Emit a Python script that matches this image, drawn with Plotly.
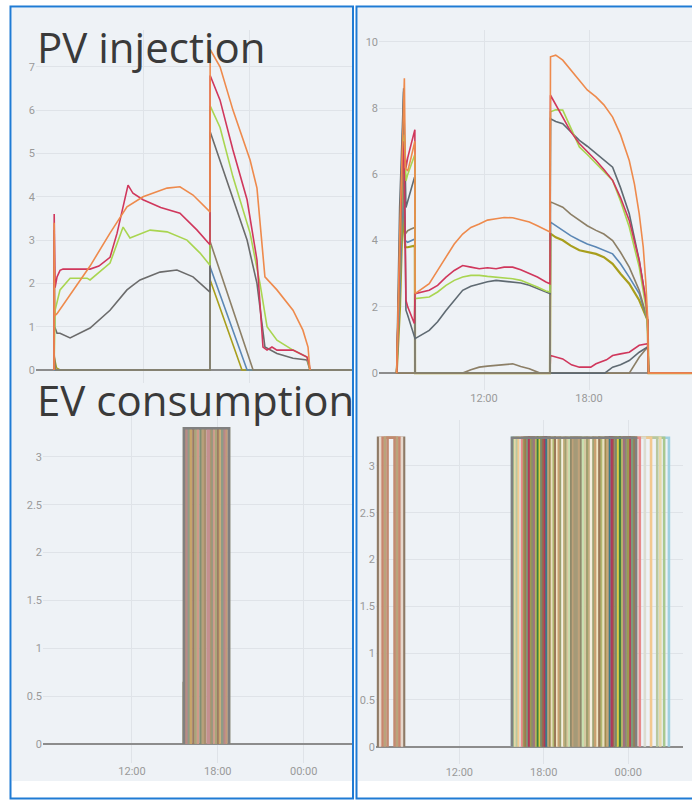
import plotly.graph_objects as go

# ---------------- DATA (hours of day, kW) ----------------
# Top-left: PV injection, feeder A
tl_orange_t = [6.96, 6.97, 6.99, 7.13, 9.0, 10.13, 11.09, 12.0, 13.36, 14.09, 14.83, 15.79, 15.80, 16.36, 17.09, 18.06, 18.45, 18.90, 19.58, 20.49, 21.05, 21.34, 21.40, 21.45]
tl_orange_v = [0, 3.4, 1.25, 1.3, 2.4, 3.16, 3.77, 4.0, 4.2, 4.23, 4.04, 3.65, 7.4, 7.0, 6.0, 4.85, 4.2, 2.15, 1.85, 1.38, 0.92, 0.53, 0.25, 0]
tl_red_t = [6.96, 6.97, 7.02, 7.13, 7.30, 7.47, 9.0, 9.5, 10.13, 10.53, 11.15, 11.43, 12.0, 13.0, 14.09, 15.06, 15.79, 15.80, 16.36, 17.09, 17.89, 18.45, 18.79, 19.02, 19.30, 19.58, 20.49, 21.28, 21.40, 21.45]
tl_red_v = [0, 3.6, 1.9, 2.15, 2.3, 2.33, 2.33, 2.4, 2.6, 3.16, 4.27, 4.08, 3.93, 3.75, 3.62, 3.23, 2.89, 6.8, 6.23, 5.08, 3.93, 2.54, 0.53, 0.46, 0.53, 0.46, 0.46, 0.3, 0.15, 0]
tl_green_t = [6.96, 7.02, 7.30, 7.87, 8.83, 9.0, 10.13, 10.87, 11.26, 12.4, 13.36, 14.49, 15.23, 15.79, 15.80, 16.36, 17.09, 18.06, 18.62, 19.02, 19.58, 20.49, 21.28, 21.45]
tl_green_v = [0, 1.38, 1.85, 2.12, 2.12, 2.08, 2.47, 3.3, 3.05, 3.23, 3.19, 3.0, 2.7, 2.42, 6.1, 5.6, 4.46, 3.16, 2.0, 1.0, 0.69, 0.46, 0.3, 0]
tl_gray_t = [6.96, 6.97, 7.0, 7.13, 7.30, 7.87, 9.0, 10.13, 11.09, 11.4, 11.83, 12.96, 13.92, 14.83, 15.79, 15.80, 17.09, 17.89, 18.45, 18.90, 19.58, 20.49, 21.28, 21.45]
tl_gray_v = [0, 3.23, 1.0, 0.85, 0.85, 0.74, 0.97, 1.38, 1.85, 1.95, 2.08, 2.26, 2.31, 2.15, 1.8, 5.5, 3.93, 3.0, 2.0, 0.53, 0.38, 0.27, 0.23, 0]
tl_taupe_t = [6.96, 6.97, 7.05, 15.79, 15.80, 18.23, 23.8]
tl_taupe_v = [0, 0.35, 0, 0, 2.96, 0, 0]
tl_blue_t = [6.96, 15.79, 15.80, 17.89, 23.8]
tl_blue_v = [0, 0, 2.38, 0, 0]
tl_olive_t = [6.96, 6.97, 7.1, 7.3, 15.79, 15.80, 17.60, 23.8]
tl_olive_v = [0, 0.3, 0.05, 0, 0, 2.08, 0, 0]

# Top-right: PV injection, feeder B
tr_orange_t = [7.01, 7.20, 7.38, 7.45, 7.50, 7.64, 7.83, 8.02, 8.05, 8.06, 8.87, 9.35, 9.83, 10.30, 10.78, 11.25, 11.73, 12.20, 12.69, 13.15, 13.64, 14.10, 14.59, 15.05, 15.54, 15.77, 15.80, 16.10, 16.50, 16.95, 17.45, 17.90, 18.40, 18.85, 19.35, 19.80, 20.30, 20.60, 20.87, 21.10, 21.25, 21.35, 21.40, 23.88]
tr_orange_v = [0, 4.5, 7.6, 8.9, 6.2, 6.1, 6.5, 6.9, 7.0, 2.4, 2.7, 3.1, 3.5, 3.9, 4.2, 4.4, 4.5, 4.62, 4.66, 4.7, 4.69, 4.63, 4.56, 4.45, 4.31, 4.26, 9.55, 9.6, 9.45, 9.15, 8.84, 8.55, 8.34, 8.1, 7.73, 7.2, 6.42, 5.7, 4.81, 3.8, 2.7, 1.69, 0, 0]
tr_red_t = [7.01, 7.20, 7.36, 7.45, 7.54, 7.64, 7.83, 8.02, 8.06, 8.87, 9.35, 9.83, 10.30, 10.78, 11.25, 11.73, 12.20, 12.69, 13.15, 13.64, 14.10, 14.59, 15.05, 15.54, 15.77, 15.80, 16.10, 16.50, 16.95, 17.45, 17.90, 18.40, 18.85, 19.35, 19.80, 20.30, 20.87, 21.25, 21.35, 21.40, 23.88]
tr_red_v = [0, 3.5, 7.0, 6.0, 2.2, 2.0, 1.75, 1.5, 2.4, 2.5, 2.65, 2.9, 3.1, 3.25, 3.2, 3.15, 3.18, 3.15, 3.2, 3.2, 3.12, 3.0, 2.9, 2.75, 2.7, 8.39, 8.1, 7.73, 7.3, 6.93, 6.7, 6.42, 6.15, 5.82, 5.3, 4.61, 3.4, 2.2, 1.6, 0, 0]
tr_green_t = [7.01, 7.20, 7.38, 7.45, 7.54, 7.64, 7.83, 8.02, 8.05, 8.06, 8.87, 9.35, 9.83, 10.30, 10.78, 11.25, 11.73, 12.20, 12.69, 13.15, 13.64, 14.10, 14.59, 15.05, 15.54, 15.77, 15.80, 16.10, 16.50, 16.95, 17.45, 17.90, 18.40, 18.85, 19.35, 19.80, 20.30, 20.87, 21.25, 21.35, 21.40, 23.88]
tr_green_v = [0, 3.8, 6.8, 7.2, 5.8, 6.0, 6.3, 6.6, 6.6, 2.25, 2.3, 2.45, 2.65, 2.8, 2.9, 2.95, 2.95, 2.92, 2.9, 2.88, 2.85, 2.8, 2.7, 2.6, 2.48, 2.45, 7.89, 7.95, 7.94, 7.4, 6.83, 6.6, 6.32, 6.1, 5.82, 5.2, 4.41, 3.2, 1.99, 1.39, 0, 0]
tr_slate_t = [7.01, 7.18, 7.34, 7.41, 7.48, 7.54, 7.64, 7.83, 8.02, 8.06, 8.87, 9.35, 9.83, 10.30, 10.78, 11.25, 11.73, 12.20, 12.69, 13.15, 13.64, 14.10, 14.59, 15.05, 15.54, 15.77, 15.80, 16.10, 16.50, 16.95, 17.45, 17.90, 18.40, 18.85, 19.35, 19.80, 20.30, 20.87, 21.25, 21.35, 21.40, 23.88]
tr_slate_v = [0, 5.0, 7.5, 8.6, 5.0, 1.9, 1.75, 1.4, 1.1, 1.04, 1.29, 1.55, 1.89, 2.2, 2.5, 2.62, 2.7, 2.76, 2.8, 2.78, 2.75, 2.72, 2.65, 2.55, 2.45, 2.4, 7.68, 7.6, 7.53, 7.3, 7.03, 6.85, 6.63, 6.45, 6.22, 5.6, 4.81, 3.4, 2.2, 1.49, 0, 0]
tr_eve_t = [7.01, 7.20, 7.36, 7.50, 7.64, 7.83, 8.02, 8.05, 8.06, 15.77, 15.80, 16.10, 16.50, 16.95, 17.45, 17.90, 18.40, 18.85, 19.35, 19.80, 20.30, 20.87, 21.35, 21.40, 23.88]
tr_taupe_v = [0, 3.0, 6.0, 4.2, 4.3, 4.35, 4.4, 4.4, 0, 0, 5.17, 5.1, 5.01, 4.8, 4.61, 4.45, 4.31, 4.2, 4.0, 3.65, 3.2, 2.5, 1.59, 0, 0]
tr_blue_v = [0, 2.5, 5.5, 4.0, 3.95, 4.0, 4.05, 4.05, 0, 0, 4.56, 4.45, 4.31, 4.15, 4.01, 3.9, 3.81, 3.72, 3.6, 3.3, 2.9, 2.4, 1.59, 0, 0]
tr_olive_v = [0, 2.0, 5.0, 3.8, 3.8, 3.82, 3.85, 3.85, 0, 0, 4.21, 4.1, 4.01, 3.85, 3.71, 3.65, 3.6, 3.5, 3.3, 3.0, 2.7, 2.2, 1.59, 0, 0]
tr_lowred_t = [7.01, 7.20, 7.38, 7.45, 7.54, 7.64, 7.83, 8.02, 8.05, 8.06, 15.77, 15.80, 16.00, 16.50, 17.0, 17.45, 18.1, 18.40, 19.00, 19.35, 19.80, 20.30, 20.87, 21.35, 21.40, 23.88]
tr_lowred_v = [0, 4.0, 6.0, 7.0, 6.2, 6.5, 6.9, 7.3, 7.35, 0, 0, 0.53, 0.5, 0.43, 0.25, 0.18, 0.18, 0.28, 0.4, 0.53, 0.58, 0.63, 0.84, 0.89, 0, 0]
tr_lowslate_t = [7.01, 7.20, 7.41, 7.54, 7.64, 7.83, 8.02, 8.05, 8.06, 18.9, 19.35, 19.80, 20.30, 20.87, 21.35, 21.40, 23.88]
tr_lowslate_v = [0, 4.5, 8.5, 5.0, 5.2, 5.5, 5.9, 5.9, 0, 0, 0.18, 0.25, 0.38, 0.63, 0.79, 0, 0]
tr_lowtaupe_t = [7.01, 10.78, 11.25, 11.73, 12.20, 12.69, 13.15, 13.64, 14.10, 14.59, 15.20, 20.30, 20.87, 21.35, 21.40, 23.88]
tr_lowtaupe_v = [0, 0, 0.1, 0.18, 0.21, 0.23, 0.25, 0.28, 0.2, 0.13, 0, 0, 0.48, 0.79, 0, 0]

# Bottom-left: EV consumption, feeder A (start h, end h, kW, colour)
evl_start = [15.62, 15.64, 15.72, 15.85, 15.98, 16.12, 16.30, 16.45, 16.62, 16.80, 16.95, 17.12, 17.30, 15.64]
evl_end = [15.66, 18.78, 18.60, 18.45, 18.30, 18.12, 17.98, 17.85, 17.70, 17.55, 17.47, 17.41, 17.36, 18.78]
evl_power = [0.65, 3.3, 3.3, 3.3, 3.3, 3.3, 3.3, 3.3, 3.3, 3.3, 3.3, 3.3, 3.3, 3.3]
evl_color = ["#8a8a6a", "#8f8b66", "#c49a78", "#b98888", "#8e9c86", "#c7a46a", "#9c7a62", "#a9a57a",
             "#cf9a8a", "#7f8f74", "#b8a07a", "#a88f6f", "#c49090", "#808080"]

# Bottom-right: EV consumption, feeder B
evr_start = [6.23, 6.38, 6.55, 6.72, 6.90,
             15.74, 15.86, 15.98, 16.09, 16.22, 16.34, 16.47, 16.60, 16.71, 16.84, 16.96, 17.10, 17.21,
             17.34, 17.46, 17.59, 17.72, 17.83, 17.96, 18.09, 18.20, 18.34, 18.45, 18.58, 18.71, 18.82,
             18.96, 19.07, 19.21, 19.33, 19.46, 19.57, 19.70, 19.83, 19.95, 20.08, 20.20, 15.74]
evr_end = [8.07, 7.92, 7.74, 7.56, 7.40,
           26.89, 26.55, 26.28, 26.06, 25.62, 25.18, 24.82, 24.55, 24.41, 24.27, 24.10, 23.98, 23.81,
           23.68, 23.52, 23.39, 23.23, 23.10, 22.93, 22.81, 22.64, 22.52, 22.35, 22.22, 22.06, 21.93,
           21.77, 21.64, 21.47, 21.35, 21.18, 21.06, 20.89, 20.76, 20.60, 20.47, 20.33, 24.55]
evr_power = [3.3, 3.3, 3.3, 3.3, 3.3,
             3.3, 3.3, 3.3, 3.3, 3.3, 3.3, 3.3, 3.3, 3.3, 3.3, 3.3, 3.3, 3.3,
             3.3, 3.3, 3.3, 3.3, 3.3, 3.3, 3.3, 3.3, 3.3, 3.3, 3.3, 3.3, 3.3,
             3.3, 3.3, 3.3, 3.3, 3.3, 3.3, 3.3, 3.3, 3.3, 3.3, 3.3, 3.3]
evr_color = ["#8e7a66", "#e6d8cc", "#c9866e", "#b9a47c", "#c28a70",
             "#9fd0e0", "#a8c890", "#e8d8a8", "#b8c8a0", "#f2c890", "#dcdcd0", "#e88a8a", "#9a9a5a",
             "#a07850", "#7e9a7a", "#b03a5a", "#a09a50", "#8a8a70", "#a07080", "#b8b060", "#3a8040",
             "#e0c840", "#7a8a6a", "#9a6a50", "#b03a5a", "#3a7a8a", "#c8a878", "#a08a50", "#e8e0c0",
             "#b0b870", "#9a7858", "#f0e6c8", "#c8a070", "#9aa070", "#f4f0e0", "#c8b080", "#a0a070",
             "#d8c8a0", "#c8e0b0", "#8e8a6a", "#c0a27a", "#a59a78", "#808080"]

hour_ticks = [12, 18, 24]
hour_labels = ["12:00", "18:00", "00:00"]

# ---------------- FIGURE ----------------
W, H = 692, 800
def px(x): return x / W
def py(y): return 1 - y / H

C = dict(orange="#ee8a4c", red="#d0375c", green="#a9d550", slate="#5f6a72", gray="#6b6b6b",
         taupe="#8c7f66", blue="#5b87b5", olive="#a89e1c")

fig = go.Figure()

def line(x, y, color, ax, w=1.6):
    fig.add_trace(go.Scatter(x=x, y=y, mode="lines", line=dict(color=color, width=w),
                             xaxis="x" + ax, yaxis="y" + ax, showlegend=False, hoverinfo="skip"))

# top-left
line(tl_olive_t, tl_olive_v, C["olive"], "")
line(tl_blue_t, tl_blue_v, C["blue"], "")
line(tl_taupe_t, tl_taupe_v, C["taupe"], "")
line(tl_gray_t, tl_gray_v, C["gray"], "")
line(tl_green_t, tl_green_v, C["green"], "")
line(tl_red_t, tl_red_v, C["red"], "")
line(tl_orange_t, tl_orange_v, C["orange"], "")

# top-right
line(tr_lowtaupe_t, tr_lowtaupe_v, C["taupe"], "2")
line(tr_lowslate_t, tr_lowslate_v, C["slate"], "2")
line(tr_lowred_t, tr_lowred_v, C["red"], "2")
line(tr_eve_t, tr_olive_v, C["olive"], "2", 2.2)
line(tr_eve_t, tr_blue_v, C["blue"], "2")
line(tr_eve_t, tr_taupe_v, C["taupe"], "2")
line(tr_slate_t, tr_slate_v, C["slate"], "2")
line(tr_green_t, tr_green_v, C["green"], "2")
line(tr_red_t, tr_red_v, C["red"], "2")
line(tr_orange_t, tr_orange_v, C["orange"], "2")

# EV rectangles
for s, e, p, c in zip(evl_start, evl_end, evl_power, evl_color):
    line([s, s, e, e], [0, p, p, 0], c, "3", 2.6)
for s, e, p, c in zip(evr_start, evr_end, evr_power, evr_color):
    line([s, s, e, e], [0, p, p, 0], c, "4", 2.6)

tickfont = dict(family="Roboto", size=11, color="#9a9a9a")
grid = "#dfe3e8"
ax_common = dict(showgrid=True, gridcolor=grid, gridwidth=1, showline=False, ticks="",
                 tickfont=tickfont, fixedrange=True)
zero = dict(zeroline=True, zerolinecolor="#8c8c8c", zerolinewidth=2)

fig.update_layout(
    width=W, height=H, margin=dict(l=0, r=0, t=0, b=0),
    paper_bgcolor="white", plot_bgcolor="rgba(0,0,0,0)",
    xaxis=dict(domain=[px(36), px(352)], range=[5.94, 23.83], tickvals=hour_ticks, ticktext=hour_labels,
               showticklabels=False, zeroline=False, anchor="y", **ax_common),
    yaxis=dict(domain=[py(383), py(30)], range=[-0.30, 7.85], tickvals=[0, 1, 2, 3, 4, 5, 6, 7],
               anchor="x", **zero, **ax_common),
    xaxis2=dict(domain=[px(379), 1.0], range=[6.0, 23.886], tickvals=hour_ticks, ticktext=hour_labels,
                zeroline=False, anchor="y2", **ax_common),
    yaxis2=dict(domain=[py(390), py(30)], range=[-0.51, 10.36], tickvals=[0, 2, 4, 6, 8, 10],
                anchor="x2", **zero, **ax_common),
    xaxis3=dict(domain=[px(43), px(352)], range=[5.78, 27.38], tickvals=hour_ticks, ticktext=hour_labels,
                zeroline=False, anchor="y3", **ax_common),
    yaxis3=dict(domain=[py(763), py(410)], range=[-0.199, 3.49], tickvals=[0, 0.5, 1, 1.5, 2, 2.5, 3],
                anchor="x3", **zero, **ax_common),
    xaxis4=dict(domain=[px(376), px(683)], range=[6.08, 27.89], tickvals=hour_ticks, ticktext=hour_labels,
                zeroline=False, anchor="y4", **ax_common),
    yaxis4=dict(domain=[py(764), py(420)], range=[-0.185, 3.49], tickvals=[0, 0.5, 1, 1.5, 2, 2.5, 3],
                anchor="x4", **zero, **ax_common),
)

panel = "#eef2f6"
frame = "#1f7bd4"
shapes = [
    dict(type="rect", xref="paper", yref="paper", x0=px(12), x1=px(352), y0=py(781), y1=py(8),
         fillcolor=panel, line=dict(width=0), layer="below"),
    dict(type="rect", xref="paper", yref="paper", x0=px(358), x1=px(700), y0=py(781), y1=py(8),
         fillcolor=panel, line=dict(width=0), layer="below"),
    dict(type="rect", xref="paper", yref="paper", x0=px(10.5), x1=px(353), y0=py(798.5), y1=py(6.5),
         line=dict(color=frame, width=2), layer="above"),
    dict(type="rect", xref="paper", yref="paper", x0=px(356.5), x1=px(710), y0=py(798.5), y1=py(6.5),
         line=dict(color=frame, width=2), layer="above"),
]
fig.update_layout(shapes=shapes)

title_font = dict(family="Open Sans", size=42, color="#3a3a3a")
fig.add_annotation(text="PV injection", xref="paper", yref="paper", x=px(35), y=py(46),
                   xanchor="left", yanchor="middle", showarrow=False, font=title_font)
fig.add_annotation(text="EV consumption", xref="paper", yref="paper", x=px(35), y=py(399),
                   xanchor="left", yanchor="middle", showarrow=False, font=title_font,
                   bgcolor="rgba(0,0,0,0)")

fig.write_html("out.html")
